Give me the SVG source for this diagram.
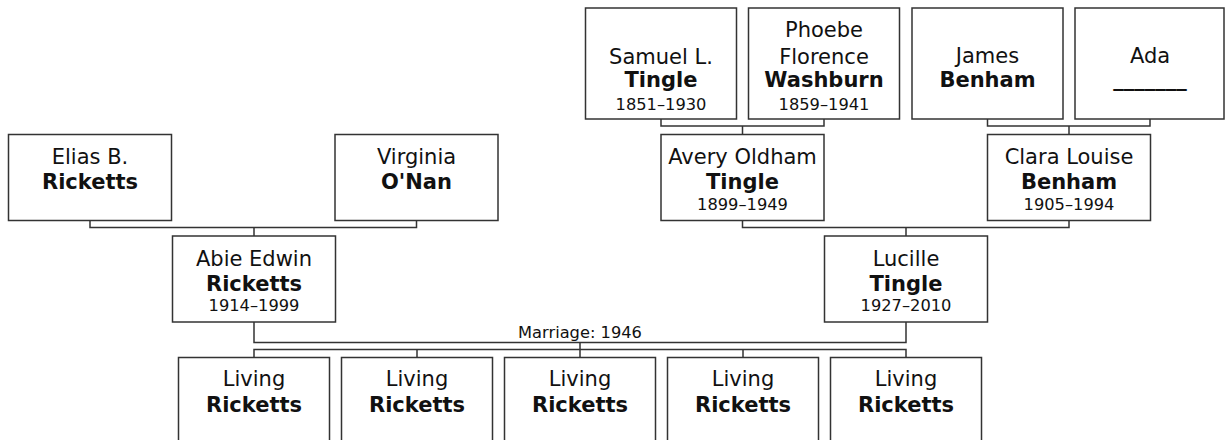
<svg xmlns="http://www.w3.org/2000/svg" width="1225" height="440" viewBox="0 0 1225 440">
<style>
.box{fill:#fff;stroke:#333;stroke-width:1.5}
.ln{fill:none;stroke:#333;stroke-width:1.5}
text{font-family:"DejaVu Sans",Verdana,sans-serif;fill:#111;text-anchor:middle}
.r{font-size:21px}
.b{font-size:21px;font-weight:bold}
.d{font-size:16.25px}
.m{font-size:16.25px}
</style>
<rect width="1225" height="440" fill="#fff"/>
<g id="connectors">
<path class="ln" d="M661,119 V126 H824 V119 M742.5,126 V134.5"/>
<path class="ln" d="M987.5,119 V126 H1150 V119 M1069,126 V134.5"/>
<path class="ln" d="M90,220.5 V227.5 H416.5 V220.5 M254,227.5 V236"/>
<path class="ln" d="M742.5,220.5 V227.5 H1069 V220.5 M906,227.5 V236"/>
<path class="ln" d="M254,322 V342.5 H906 V322"/>
<path class="ln" d="M580,342.5 V357.5 M254,357.5 V349.5 H906 V357.5 M417,349.5 V357.5 M743,349.5 V357.5"/>
<text class="m" x="580" y="338">Marriage: 1946</text>
</g>
<g id="samuel">
<rect class="box" x="585.5" y="8" width="151" height="111"/>
<text class="r" x="661" y="64">Samuel L.</text>
<text class="b" x="661" y="87">Tingle</text>
<text class="d" x="661" y="110">1851–1930</text>
</g>
<g id="phoebe">
<rect class="box" x="748.5" y="8" width="151" height="111"/>
<text class="r" x="824" y="37">Phoebe</text>
<text class="r" x="824" y="64">Florence</text>
<text class="b" x="824" y="87">Washburn</text>
<text class="d" x="824" y="110">1859–1941</text>
</g>
<g id="james">
<rect class="box" x="912" y="8" width="151" height="111"/>
<text class="r" x="987.5" y="63">James</text>
<text class="b" x="987.5" y="87">Benham</text>
</g>
<g id="ada">
<rect class="box" x="1075" y="8" width="149" height="111"/>
<text class="r" x="1150" y="63">Ada</text>
<text class="b" x="1150" y="86">_______</text>
</g>
<g id="elias">
<rect class="box" x="8.5" y="134.5" width="163" height="86"/>
<text class="r" x="90" y="164">Elias B.</text>
<text class="b" x="90" y="189">Ricketts</text>
</g>
<g id="virginia">
<rect class="box" x="335" y="134.5" width="163" height="86"/>
<text class="r" x="416.5" y="164">Virginia</text>
<text class="b" x="416.5" y="189">O'Nan</text>
</g>
<g id="avery">
<rect class="box" x="661" y="134.5" width="163" height="86"/>
<text class="r" x="742.5" y="164">Avery Oldham</text>
<text class="b" x="742.5" y="189">Tingle</text>
<text class="d" x="742.5" y="210">1899–1949</text>
</g>
<g id="clara">
<rect class="box" x="987.5" y="134.5" width="163" height="86"/>
<text class="r" x="1069" y="164">Clara Louise</text>
<text class="b" x="1069" y="189">Benham</text>
<text class="d" x="1069" y="210">1905–1994</text>
</g>
<g id="abie">
<rect class="box" x="172.5" y="236" width="163" height="86"/>
<text class="r" x="254" y="266">Abie Edwin</text>
<text class="b" x="254" y="291">Ricketts</text>
<text class="d" x="254" y="311">1914–1999</text>
</g>
<g id="lucille">
<rect class="box" x="824.5" y="236" width="163" height="86"/>
<text class="r" x="906" y="266">Lucille</text>
<text class="b" x="906" y="291">Tingle</text>
<text class="d" x="906" y="311">1927–2010</text>
</g>
<g id="child1">
<rect class="box" x="178.5" y="357.5" width="151" height="112"/>
<text class="r" x="254" y="386">Living</text>
<text class="b" x="254" y="412">Ricketts</text>
</g>
<g id="child2">
<rect class="box" x="341.5" y="357.5" width="151" height="112"/>
<text class="r" x="417" y="386">Living</text>
<text class="b" x="417" y="412">Ricketts</text>
</g>
<g id="child3">
<rect class="box" x="504.5" y="357.5" width="151" height="112"/>
<text class="r" x="580" y="386">Living</text>
<text class="b" x="580" y="412">Ricketts</text>
</g>
<g id="child4">
<rect class="box" x="667.5" y="357.5" width="151" height="112"/>
<text class="r" x="743" y="386">Living</text>
<text class="b" x="743" y="412">Ricketts</text>
</g>
<g id="child5">
<rect class="box" x="830.5" y="357.5" width="151" height="112"/>
<text class="r" x="906" y="386">Living</text>
<text class="b" x="906" y="412">Ricketts</text>
</g>
</svg>
